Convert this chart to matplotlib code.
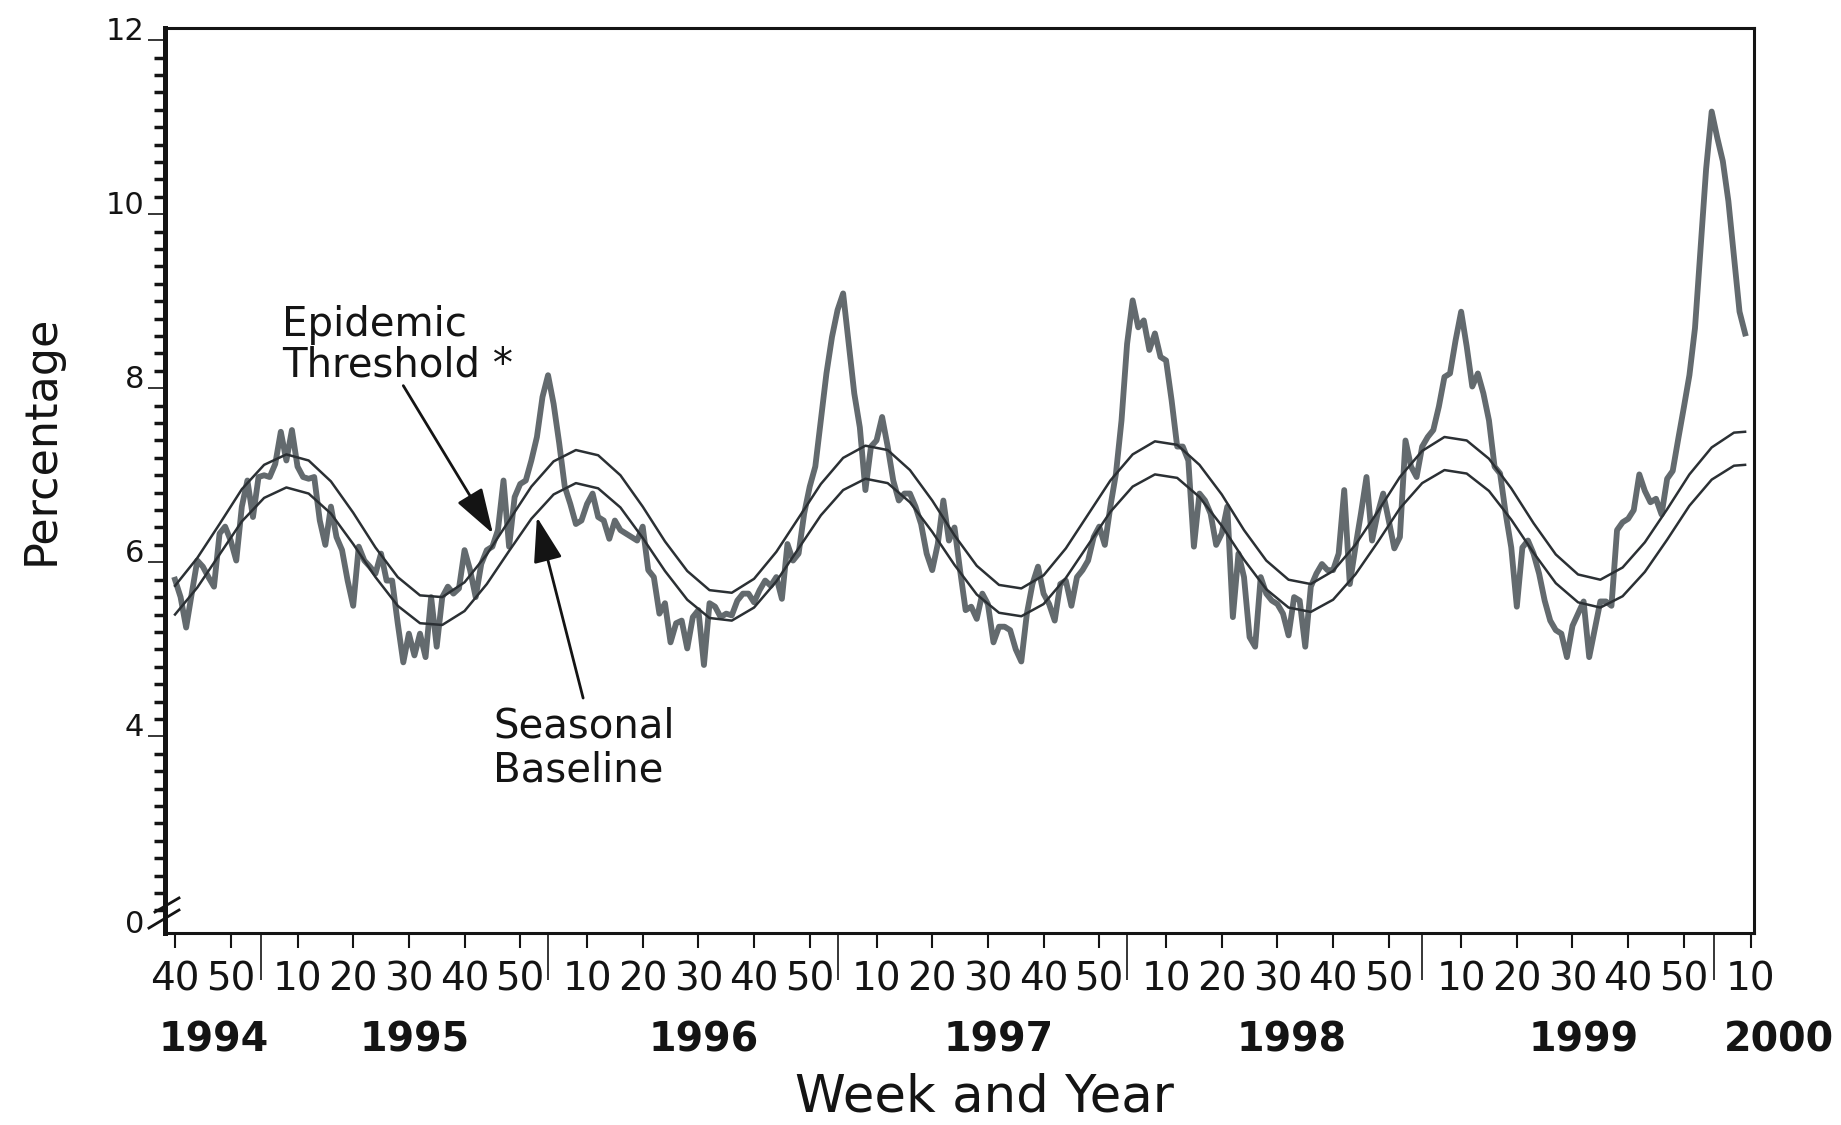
import matplotlib
matplotlib.use('Agg')
import matplotlib.pyplot as plt
import numpy as np
from matplotlib import font_manager

GRAY = '#636a6e'
CURVE = '#2b3034'
INK = '#141414'

# weekly percentage, week 40 of 1994 through week 9 of 2000
pct = [
    5.80, 5.60, 5.25, 5.64, 6.02, 5.95, 5.83, 5.72, 6.33, 6.41,
    6.25, 6.02, 6.64, 6.94, 6.52, 6.98, 7.00, 6.98, 7.13, 7.50,
    7.17, 7.52, 7.10, 6.98, 6.96, 6.98, 6.48, 6.20, 6.64, 6.29,
    6.14, 5.79, 5.50, 6.18, 6.02, 5.95, 5.87, 6.10, 5.79, 5.79,
    5.30, 4.85, 5.18, 4.93, 5.18, 4.91, 5.60, 5.03, 5.60, 5.72,
    5.64, 5.70, 6.14, 5.91, 5.60, 5.98, 6.14, 6.18, 6.37, 6.94,
    6.18, 6.75, 6.90, 6.94, 7.17, 7.44, 7.90, 8.15, 7.82, 7.37,
    6.87, 6.67, 6.44, 6.48, 6.67, 6.79, 6.52, 6.48, 6.27, 6.48,
    6.37, 6.33, 6.29, 6.25, 6.41, 5.91, 5.83, 5.41, 5.53, 5.08,
    5.30, 5.33, 5.01, 5.37, 5.45, 4.82, 5.53, 5.49, 5.37, 5.41,
    5.39, 5.56, 5.64, 5.64, 5.54, 5.68, 5.79, 5.73, 5.83, 5.58,
    6.21, 6.02, 6.10, 6.56, 6.87, 7.10, 7.63, 8.17, 8.59, 8.90,
    9.09, 8.51, 7.94, 7.55, 6.83, 7.33, 7.40, 7.67, 7.33, 6.94,
    6.71, 6.79, 6.79, 6.64, 6.44, 6.10, 5.91, 6.21, 6.71, 6.25,
    6.40, 5.91, 5.45, 5.49, 5.35, 5.64, 5.52, 5.08, 5.26, 5.26,
    5.22, 5.00, 4.86, 5.41, 5.75, 5.95, 5.64, 5.52, 5.33, 5.75,
    5.79, 5.50, 5.83, 5.91, 6.02, 6.29, 6.41, 6.20, 6.64, 7.02,
    7.63, 8.51, 9.01, 8.70, 8.78, 8.44, 8.63, 8.36, 8.32, 7.86,
    7.33, 7.33, 7.17, 6.18, 6.79, 6.71, 6.56, 6.20, 6.33, 6.64,
    5.37, 6.10, 5.83, 5.14, 5.03, 5.83, 5.64, 5.56, 5.52, 5.41,
    5.16, 5.60, 5.56, 5.03, 5.72, 5.87, 5.98, 5.91, 5.91, 6.10,
    6.83, 5.75, 6.17, 6.56, 6.98, 6.25, 6.56, 6.79, 6.48, 6.16,
    6.29, 7.40, 7.10, 6.98, 7.33, 7.44, 7.52, 7.79, 8.13, 8.17,
    8.55, 8.88, 8.48, 8.02, 8.17, 7.94, 7.63, 7.10, 7.02, 6.56,
    6.17, 5.49, 6.17, 6.25, 6.10, 5.87, 5.56, 5.33, 5.22, 5.18,
    4.91, 5.27, 5.41, 5.55, 4.91, 5.23, 5.55, 5.55, 5.50, 6.37,
    6.46, 6.50, 6.60, 7.01, 6.82, 6.69, 6.73, 6.55, 6.96, 7.05,
    7.42, 7.78, 8.15, 8.69, 9.61, 10.52, 11.18, 10.88, 10.61, 10.15,
    9.52, 8.88, 8.63,
]

# seasonal baseline and epidemic threshold, read every 4 weeks
curve_weeks = list(range(0, 281, 4)) + [282]
baseline = [
    5.40, 5.71, 6.09, 6.47, 6.74, 6.86, 6.79, 6.56, 6.21, 5.83,
    5.50, 5.30, 5.28, 5.44, 5.75, 6.13, 6.50, 6.78, 6.91, 6.85,
    6.63, 6.28, 5.90, 5.57, 5.36, 5.33, 5.48, 5.78, 6.16, 6.54,
    6.83, 6.96, 6.91, 6.69, 6.35, 5.97, 5.63, 5.42, 5.38, 5.52,
    5.82, 6.20, 6.58, 6.87, 7.01, 6.97, 6.75, 6.42, 6.03, 5.69,
    5.48, 5.43, 5.57, 5.86, 6.23, 6.62, 6.91, 7.06, 7.02, 6.82,
    6.49, 6.11, 5.76, 5.54, 5.48, 5.61, 5.89, 6.26, 6.65, 6.95,
    7.11, 7.12,
]
threshold = [
    5.73, 6.05, 6.44, 6.84, 7.12, 7.24, 7.17, 6.93, 6.57, 6.17,
    5.83, 5.62, 5.60, 5.77, 6.09, 6.48, 6.87, 7.16, 7.29, 7.23,
    7.00, 6.64, 6.24, 5.90, 5.68, 5.65, 5.81, 6.12, 6.51, 6.90,
    7.20, 7.34, 7.29, 7.06, 6.71, 6.31, 5.96, 5.74, 5.70, 5.85,
    6.16, 6.55, 6.94, 7.24, 7.39, 7.35, 7.12, 6.78, 6.37, 6.02,
    5.80, 5.75, 5.90, 6.20, 6.58, 6.98, 7.28, 7.44, 7.40, 7.19,
    6.85, 6.45, 6.09, 5.86, 5.80, 5.94, 6.23, 6.61, 7.01, 7.32,
    7.49, 7.50,
]

tick_weeks = [0, 10, 22, 32, 42, 52, 62, 74, 84, 94, 104, 114, 126, 136,
              146, 156, 166, 178, 188, 198, 208, 218, 231, 241, 251, 261,
              271, 283]
tick_labels = ['40', '50'] + ['10', '20', '30', '40', '50'] * 5 + ['10']
year_edges = [15.4, 67, 119, 171, 224, 276.5]
years = ['1994', '1995', '1996', '1997', '1998', '1999', '2000']
year_pos = [7, 43, 95, 148, 200.5, 253, 288]

names = {f.name for f in font_manager.fontManager.ttflist}
narrow = 'Liberation Sans Narrow' if 'Liberation Sans Narrow' in names else 'DejaVu Sans'

fig = plt.figure(figsize=(18.41, 11.25), dpi=100)
ax = fig.add_axes([165 / 1841, 1 - 933 / 1125, 1589 / 1841, 905 / 1125])

ax.plot(np.arange(len(pct)), pct, color=GRAY, lw=4.2, zorder=2)
ax.plot(curve_weeks, baseline, color=CURVE, lw=1.8, zorder=3)
ax.plot(curve_weeks, threshold, color=CURVE, lw=1.8, zorder=3)

ax.set_xlim(-1.8, 283.6)
ax.set_ylim(1.74, 12.14)

for side in ['top', 'right', 'bottom']:
    ax.spines[side].set_linewidth(2.2)
    ax.spines[side].set_color(INK)
ax.spines['left'].set_linewidth(3.6)
ax.spines['left'].set_color(INK)

# y axis: broken at the bottom, the 0 sits on the corner
ax.set_yticks([1.74, 4, 6, 8, 10, 12], ['0', '4', '6', '8', '10', '12'])
ax.set_yticks(np.arange(2, 12.01, 0.2), minor=True)
ax.tick_params(axis='y', which='major', length=12, width=1.2, pad=3,
               labelsize=22, colors=INK)
ax.tick_params(axis='y', which='minor', length=8, width=2.5, colors=INK)
for lab in ax.get_yticklabels():
    lab.set_verticalalignment('baseline')
ax.yaxis.get_major_ticks()[0].tick1line.set_visible(False)

ax.set_xticks(tick_weeks, tick_labels, fontfamily=narrow)
ax.set_xticks(year_edges, minor=True)
ax.tick_params(axis='x', which='major', length=11, width=1.5, pad=9,
               labelsize=28, colors=INK)
ax.tick_params(axis='x', which='minor', length=34, width=1.2, colors=INK)

for x, s in zip(year_pos, years):
    ax.text(x, -0.1304, s, transform=ax.get_xaxis_transform(), ha='center',
            va='baseline', fontsize=28.5, fontweight='bold', color=INK)

# break marks on the y axis
ax.plot([-0.0063, 0.0088], [0.0232, 0.0387], transform=ax.transAxes,
        color=INK, lw=2, clip_on=False)
ax.plot([-0.0101, 0.0088], [0.0055, 0.0254], transform=ax.transAxes,
        color=INK, lw=2, clip_on=False)

head = '-|>,head_length=1.4,head_width=0.45'
ax.annotate('', xy=(57.1, 6.33), xytext=(41.0, 8.03),
            arrowprops=dict(arrowstyle=head, mutation_scale=20, lw=2,
                            color=INK, shrinkA=0, shrinkB=0))
ax.annotate('', xy=(65.0, 6.52), xytext=(73.3, 4.44),
            arrowprops=dict(arrowstyle=head, mutation_scale=20, lw=2,
                            color=INK, shrinkA=0, shrinkB=0))
ax.text(19.2, 8.60, 'Epidemic', fontsize=29, color=INK, va='baseline')
ax.text(19.2, 8.14, 'Threshold *', fontsize=29, color=INK, va='baseline')
ax.text(57.1, 3.99, 'Seasonal', fontsize=29, color=INK, va='baseline')
ax.text(57.1, 3.48, 'Baseline', fontsize=29, color=INK, va='baseline')

fig.text(984 / 1841, 0.012, 'Week and Year', ha='center', va='baseline',
         fontsize=37, color=INK)
fig.text(41 / 1841, 1 - 440 / 1125, 'Percentage', rotation=90, ha='center',
         va='center', fontsize=32, color=INK)

fig.savefig('out.png', dpi=100, facecolor='white')
